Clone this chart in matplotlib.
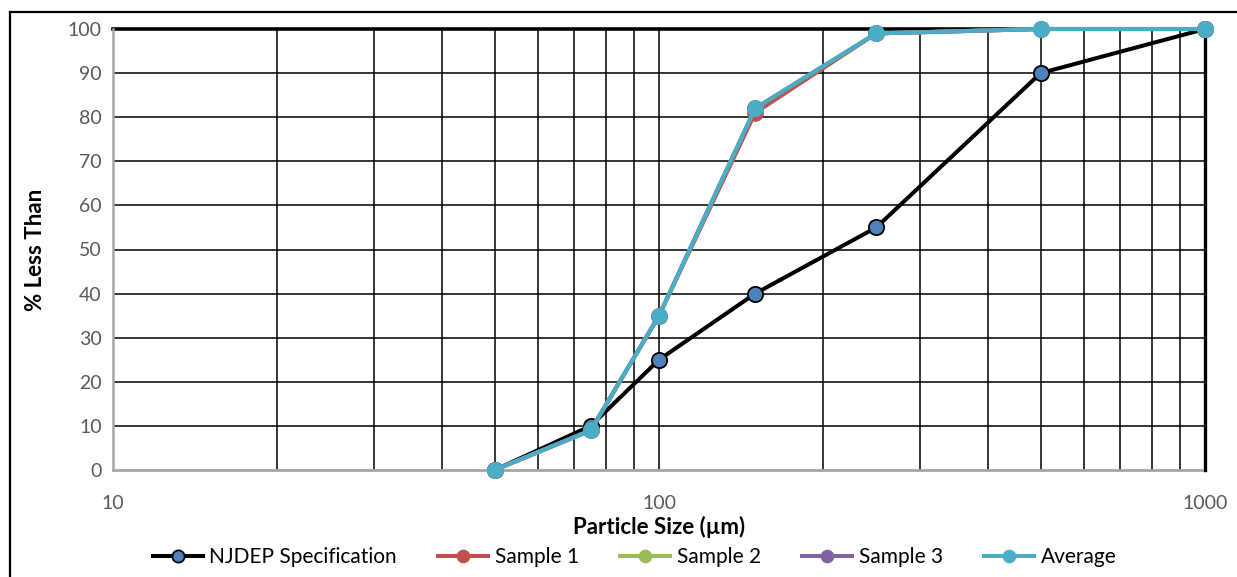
#particle size distribution chart (log x axis)

import matplotlib
matplotlib.use('Agg')
import matplotlib.pyplot as plt
from matplotlib.lines import Line2D
from matplotlib.ticker import FixedLocator, NullFormatter

plt.rcParams['font.family'] = ['Lato', 'DejaVu Sans']

#data
sizes = [50, 75, 100, 150, 250, 500, 1000]
njdep = [0, 10, 25, 40, 55, 90, 100]
sample1 = [0, 9, 35, 81, 99, 100, 100]
sample2 = [0, 9, 35, 82, 99, 100, 100]
sample3 = [0, 9, 35, 82, 99, 100, 100]
average = [0, 9, 35, 82, 99, 100, 100]

W, H = 1237, 577
fig = plt.figure(figsize=(W / 100, H / 100), dpi=100)
ax = fig.add_axes([113 / W, 1 - 470 / H, (1205 - 113) / W, (470 - 29) / H])

ax.set_xscale('log')
ax.set_xlim(10, 1000)
ax.set_ylim(0, 100)

#grid lines
minor = [20, 30, 40, 50, 60, 70, 80, 90, 200, 300, 400, 500, 600, 700, 800, 900]
for x in minor + [100]:
    ax.axvline(x, color='black', lw=1.1, zorder=1)
for y in range(10, 100, 10):
    ax.axhline(y, color='black', lw=1.1, zorder=1)
ax.axhline(100, color='black', lw=2.6, zorder=1, clip_on=False)
ax.axhline(0, color='#a6a6a6', lw=2.0, zorder=1, clip_on=False)

for s in ['top', 'bottom']:
    ax.spines[s].set_visible(False)
ax.spines['left'].set_color('#a6a6a6')
ax.spines['left'].set_linewidth(1.8)
ax.spines['right'].set_color('black')
ax.spines['right'].set_linewidth(2.4)

ms = 11
lw = 2.9
series = [
    (njdep, 'black', '#4f81bd', 'black', 'NJDEP Specification'),
    (sample1, '#c0504d', '#c0504d', '#c0504d', 'Sample 1'),
    (sample2, '#9bbb59', '#9bbb59', '#9bbb59', 'Sample 2'),
    (sample3, '#8064a2', '#8064a2', '#8064a2', 'Sample 3'),
    (average, '#4bacc6', '#4bacc6', '#4bacc6', 'Average'),
]
for i, (vals, lc, fc, ec, name) in enumerate(series):
    ax.plot(sizes, vals, color=lc, lw=lw, marker='o', ms=ms, mfc=fc, mec=ec,
            mew=1.3 if i == 0 else 1.0, label=name, zorder=3 + i, clip_on=False)

ax.xaxis.set_major_locator(FixedLocator([10, 100, 1000]))
ax.xaxis.set_minor_locator(FixedLocator(minor))
ax.xaxis.set_minor_formatter(NullFormatter())
ax.set_xticklabels(['10', '100', '1000'])
ax.set_yticks(range(0, 101, 10))
ax.tick_params(axis='both', which='both', length=0, labelsize=14, labelcolor='#595959')
ax.tick_params(axis='x', pad=18)
ax.tick_params(axis='y', pad=8)

ax.set_xlabel('Particle Size (µm)', fontsize=16, fontweight='bold', labelpad=3)
ax.set_ylabel('% Less Than', fontsize=16, fontweight='bold', labelpad=16)

handles, labels = ax.get_legend_handles_labels()
leg = fig.legend(handles, labels, loc='center', bbox_to_anchor=(0.513, 1 - 557 / H), ncol=5,
                 frameon=False, fontsize=15, handlelength=2.4, handletextpad=0.3,
                 columnspacing=2.0, markerscale=0.8)

#outer chart frame (partly cropped)
fig.add_artist(Line2D([10 / W, 10 / W], [0, 1 - 12 / H], color='black', lw=1.6, transform=fig.transFigure))
fig.add_artist(Line2D([10 / W, 1], [1 - 12 / H, 1 - 12 / H], color='black', lw=1.6, transform=fig.transFigure))

plt.savefig('out.png', dpi=100)
